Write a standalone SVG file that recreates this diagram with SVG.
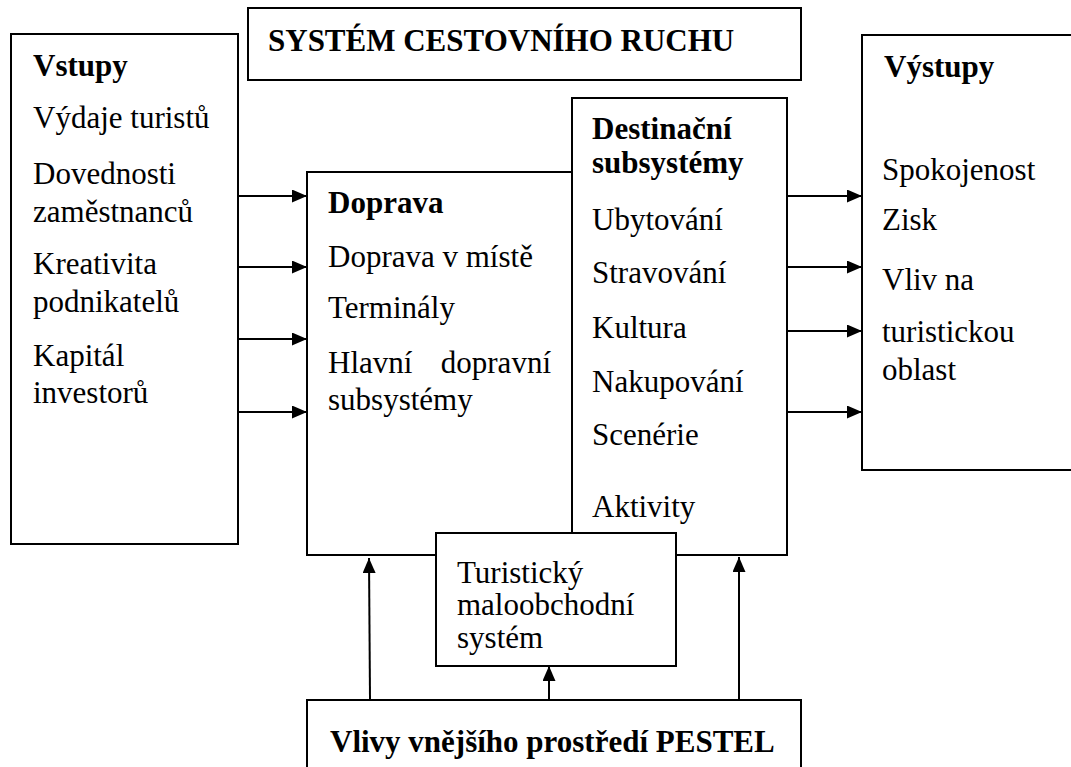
<svg xmlns="http://www.w3.org/2000/svg" width="1071" height="767" viewBox="0 0 1071 767">
<style>
.box{fill:#fff;stroke:#000;stroke-width:2}
.t{font-family:"Liberation Serif","Times New Roman",serif;font-size:31px;fill:#000}
.b{font-weight:bold}
.c{stroke:#000;stroke-width:2;fill:none;marker-end:url(#ah)}
</style>
<defs>
<marker id="ah" markerUnits="userSpaceOnUse" markerWidth="16" markerHeight="14" refX="15" refY="6.5" orient="auto">
<path d="M0,0 L15,6.5 L0,13 z" fill="#000"/>
</marker>
</defs>
<rect width="1071" height="767" fill="#fff"/>
<g id="title">
<rect class="box" x="248" y="8" width="553" height="72"/>
<text class="t b" x="268" y="51">SYSTÉM CESTOVNÍHO RUCHU</text>
</g>
<g id="vstupy">
<rect class="box" x="11" y="34" width="227" height="510"/>
<text class="t b" x="33" y="76">Vstupy</text>
<text class="t" x="33" y="128">Výdaje turistů</text>
<text class="t" x="33" y="184">Dovednosti</text>
<text class="t" x="33" y="222">zaměstnanců</text>
<text class="t" x="33" y="274">Kreativita</text>
<text class="t" x="33" y="312">podnikatelů</text>
<text class="t" x="33" y="366">Kapitál</text>
<text class="t" x="33" y="403">investorů</text>
</g>
<g id="doprava">
<rect class="box" x="307" y="172" width="265" height="383"/>
<text class="t b" x="328" y="213">Doprava</text>
<text class="t" x="328" y="267">Doprava v místě</text>
<text class="t" x="328" y="318">Terminály</text>
<text class="t" x="328" y="373">Hlavní</text>
<text class="t" x="551" y="373" text-anchor="end">dopravní</text>
<text class="t" x="328" y="410">subsystémy</text>
</g>
<g id="destinacni">
<rect class="box" x="572" y="98" width="215" height="457"/>
<text class="t b" x="592" y="139">Destinační</text>
<text class="t b" x="592" y="173">subsystémy</text>
<text class="t" x="592" y="230">Ubytování</text>
<text class="t" x="592" y="283">Stravování</text>
<text class="t" x="592" y="338">Kultura</text>
<text class="t" x="592" y="392">Nakupování</text>
<text class="t" x="592" y="445">Scenérie</text>
<text class="t" x="592" y="517">Aktivity</text>
</g>
<g id="turisticky">
<rect class="box" x="436" y="533" width="240" height="133"/>
<text class="t" x="457" y="583">Turistický</text>
<text class="t" x="457" y="615">maloobchodní</text>
<text class="t" x="457" y="648">systém</text>
</g>
<g id="vystupy">
<rect class="box" x="862" y="35" width="220" height="435"/>
<text class="t b" x="884" y="77">Výstupy</text>
<text class="t" x="882" y="180">Spokojenost</text>
<text class="t" x="882" y="230">Zisk</text>
<text class="t" x="882" y="290">Vliv na</text>
<text class="t" x="882" y="342">turistickou</text>
<text class="t" x="882" y="380">oblast</text>
</g>
<g id="pestel">
<rect class="box" x="307" y="700" width="494" height="80"/>
<text class="t b" x="330" y="752">Vlivy vnějšího prostředí PESTEL</text>
</g>
<g id="connectors">
<line class="c" x1="238" y1="196" x2="307" y2="196"/>
<line class="c" x1="238" y1="267" x2="307" y2="267"/>
<line class="c" x1="238" y1="339" x2="307" y2="339"/>
<line class="c" x1="238" y1="412" x2="307" y2="412"/>
<line class="c" x1="787" y1="196" x2="862" y2="196"/>
<line class="c" x1="787" y1="267" x2="862" y2="267"/>
<line class="c" x1="787" y1="331" x2="862" y2="331"/>
<line class="c" x1="787" y1="412" x2="862" y2="412"/>
<line class="c" x1="370" y1="699" x2="369" y2="558"/>
<line class="c" x1="549" y1="699" x2="549" y2="666"/>
<line class="c" x1="739" y1="699" x2="739" y2="557"/>
</g>
</svg>
